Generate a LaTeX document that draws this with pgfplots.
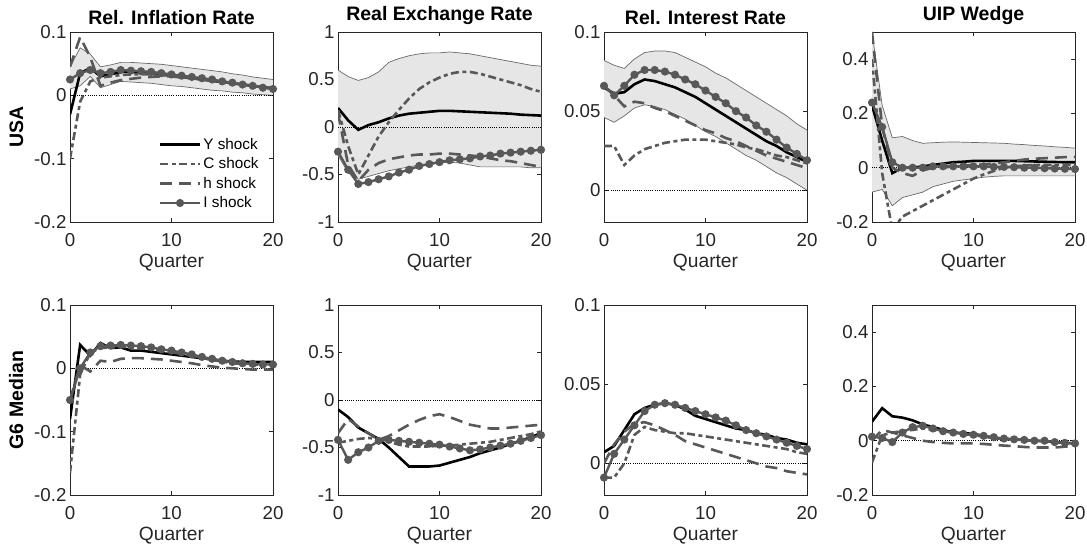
\documentclass[border=0pt]{standalone}
\usepackage{pgfplots}
\pgfplotsset{compat=1.18}
\usepackage{pgfplotstable}
\usepackage{fontspec}
\setmainfont{Liberation Sans}
\definecolor{axgray}{RGB}{38,38,38}
\definecolor{gline}{RGB}{88,88,88}
\definecolor{bandfill}{RGB}{230,230,230}
\definecolor{bandedge}{RGB}{105,105,105}

\pgfplotstableread{
q lo hi Y C h I
0 0.010 0.045 -0.030 -0.100 0.045 0.025
1 0.015 0.075 0.035 -0.010 0.092 0.035
2 0.030 0.065 0.043 0.022 0.060 0.040
3 0.012 0.045 0.030 0.028 0.015 0.035
4 0.017 0.048 0.033 0.030 0.020 0.037
5 0.022 0.052 0.037 0.032 0.024 0.040
6 0.021 0.052 0.037 0.033 0.026 0.039
7 0.020 0.051 0.036 0.033 0.028 0.038
8 0.019 0.050 0.035 0.033 0.029 0.037
9 0.017 0.049 0.033 0.032 0.030 0.035
10 0.015 0.047 0.031 0.031 0.030 0.033
11 0.014 0.045 0.029 0.029 0.028 0.031
12 0.012 0.043 0.027 0.027 0.027 0.029
13 0.010 0.041 0.025 0.025 0.025 0.027
14 0.008 0.039 0.023 0.023 0.023 0.025
15 0.007 0.037 0.021 0.021 0.021 0.022
16 0.005 0.034 0.019 0.019 0.019 0.020
17 0.004 0.032 0.017 0.017 0.017 0.017
18 0.002 0.029 0.015 0.015 0.015 0.015
19 0.001 0.027 0.013 0.013 0.013 0.012
20 0.000 0.025 0.011 0.011 0.011 0.010
}\usinf
\pgfplotstableread{
q lo hi Y C h I
0 -0.30 0.60 0.20 0.18 0.15 -0.26
1 -0.48 0.53 0.07 -0.20 -0.40 -0.45
2 -0.55 0.49 -0.03 -0.50 -0.57 -0.60
3 -0.52 0.52 0.02 -0.30 -0.45 -0.58
4 -0.49 0.58 0.05 -0.10 -0.38 -0.55
5 -0.46 0.68 0.09 0.05 -0.34 -0.52
6 -0.44 0.72 0.12 0.18 -0.32 -0.48
7 -0.42 0.75 0.14 0.30 -0.30 -0.45
8 -0.40 0.77 0.15 0.40 -0.29 -0.41
9 -0.39 0.78 0.16 0.47 -0.29 -0.39
10 -0.38 0.78 0.17 0.52 -0.28 -0.37
11 -0.37 0.79 0.17 0.56 -0.28 -0.35
12 -0.38 0.78 0.165 0.58 -0.29 -0.34
13 -0.40 0.77 0.16 0.58 -0.30 -0.33
14 -0.42 0.75 0.155 0.56 -0.31 -0.31
15 -0.42 0.73 0.15 0.53 -0.33 -0.30
16 -0.42 0.71 0.145 0.50 -0.35 -0.28
17 -0.42 0.69 0.14 0.47 -0.36 -0.27
18 -0.42 0.67 0.13 0.44 -0.38 -0.26
19 -0.43 0.65 0.125 0.40 -0.40 -0.25
20 -0.43 0.64 0.12 0.37 -0.42 -0.24
}\usrer
\pgfplotstableread{
q lo hi Y C h I
0 0.046 0.082 0.065 0.028 0.066 0.066
1 0.043 0.079 0.061 0.028 0.060 0.060
2 0.047 0.077 0.062 0.016 0.053 0.066
3 0.052 0.083 0.067 0.022 0.056 0.073
4 0.054 0.087 0.070 0.026 0.055 0.076
5 0.053 0.088 0.069 0.028 0.052 0.076
6 0.051 0.088 0.067 0.030 0.050 0.075
7 0.048 0.087 0.065 0.031 0.047 0.073
8 0.045 0.084 0.062 0.032 0.044 0.070
9 0.041 0.081 0.059 0.032 0.041 0.067
10 0.037 0.078 0.055 0.032 0.038 0.063
11 0.034 0.074 0.051 0.031 0.036 0.059
12 0.030 0.071 0.047 0.030 0.033 0.055
13 0.026 0.067 0.043 0.029 0.031 0.050
14 0.022 0.063 0.039 0.027 0.028 0.046
15 0.019 0.059 0.035 0.026 0.025 0.041
16 0.015 0.055 0.031 0.024 0.022 0.037
17 0.011 0.051 0.028 0.022 0.020 0.032
18 0.008 0.047 0.024 0.021 0.018 0.027
19 0.004 0.042 0.021 0.019 0.016 0.023
20 0.000 0.038 0.018 0.017 0.014 0.019
}\usint
\pgfplotstableread{
q lo hi Y C h I
0 -0.09 0.50 0.23 0.40 0.50 0.24
1 -0.08 0.23 0.10 -0.02 0.15 0.15
2 -0.14 0.11 -0.02 -0.23 0.00 0.02
3 -0.11 0.115 0.00 -0.18 -0.02 0.00
4 -0.10 0.10 0.00 -0.16 -0.03 0.00
5 -0.09 0.09 0.005 -0.14 -0.01 0.00
6 -0.07 0.092 0.01 -0.12 0.00 0.005
7 -0.06 0.094 0.015 -0.10 0.00 0.005
8 -0.05 0.095 0.02 -0.08 0.005 0.005
9 -0.045 0.094 0.022 -0.06 0.008 0.005
10 -0.04 0.093 0.025 -0.04 0.01 0.005
11 -0.035 0.092 0.025 -0.025 0.012 0.005
12 -0.032 0.091 0.025 -0.012 0.015 0.003
13 -0.03 0.09 0.025 0.00 0.02 0.003
14 -0.03 0.087 0.025 0.005 0.025 0.002
15 -0.03 0.085 0.024 0.008 0.03 0.000
16 -0.03 0.082 0.023 0.010 0.033 0.000
17 -0.03 0.08 0.022 0.010 0.035 -0.002
18 -0.03 0.077 0.021 0.010 0.037 -0.003
19 -0.03 0.075 0.020 0.010 0.039 -0.004
20 -0.03 0.072 0.020 0.010 0.040 -0.005
}\usuip
\pgfplotstableread{
q Y C h I
0 -0.080 -0.165 -0.050 -0.050
1 0.037 -0.010 0.005 0.000
2 0.020 0.025 -0.005 0.025
3 0.040 0.032 0.012 0.035
4 0.032 0.033 0.010 0.036
5 0.033 0.034 0.015 0.037
6 0.028 0.033 0.016 0.036
7 0.028 0.032 0.016 0.035
8 0.026 0.030 0.015 0.033
9 0.024 0.028 0.014 0.030
10 0.022 0.025 0.012 0.028
11 0.020 0.023 0.010 0.025
12 0.018 0.020 0.008 0.022
13 0.016 0.017 0.005 0.018
14 0.014 0.013 0.003 0.015
15 0.012 0.011 0.001 0.012
16 0.011 0.008 0.000 0.010
17 0.010 0.007 -0.001 0.008
18 0.010 0.006 -0.002 0.007
19 0.010 0.005 -0.002 0.006
20 0.010 0.005 -0.002 0.006
}\ginf
\pgfplotstableread{
q Y C h I
0 -0.10 -0.45 -0.35 -0.42
1 -0.18 -0.43 -0.20 -0.63
2 -0.29 -0.41 -0.28 -0.55
3 -0.35 -0.40 -0.35 -0.50
4 -0.41 -0.41 -0.42 -0.43
5 -0.50 -0.44 -0.38 -0.42
6 -0.60 -0.47 -0.32 -0.43
7 -0.70 -0.49 -0.26 -0.44
8 -0.70 -0.49 -0.21 -0.45
9 -0.70 -0.49 -0.17 -0.46
10 -0.69 -0.48 -0.15 -0.47
11 -0.66 -0.48 -0.18 -0.49
12 -0.63 -0.47 -0.22 -0.51
13 -0.60 -0.46 -0.26 -0.53
14 -0.56 -0.45 -0.28 -0.52
15 -0.53 -0.44 -0.30 -0.50
16 -0.50 -0.42 -0.30 -0.48
17 -0.46 -0.40 -0.29 -0.46
18 -0.43 -0.38 -0.28 -0.43
19 -0.39 -0.36 -0.27 -0.40
20 -0.35 -0.33 -0.26 -0.37
}\grer
\pgfplotstableread{
q Y C h I
0 0.007 -0.009 0.000 -0.009
1 0.011 -0.009 0.012 0.006
2 0.021 0.000 0.020 0.015
3 0.031 0.018 0.025 0.024
4 0.035 0.023 0.026 0.033
5 0.037 0.021 0.024 0.037
6 0.038 0.020 0.021 0.038
7 0.037 0.019 0.018 0.037
8 0.034 0.019 0.014 0.035
9 0.030 0.018 0.012 0.033
10 0.028 0.017 0.010 0.031
11 0.026 0.016 0.008 0.029
12 0.024 0.015 0.006 0.027
13 0.022 0.014 0.004 0.024
14 0.021 0.013 0.002 0.021
15 0.019 0.012 0.000 0.019
16 0.018 0.011 -0.002 0.017
17 0.016 0.010 -0.003 0.015
18 0.015 0.009 -0.005 0.013
19 0.013 0.007 -0.006 0.011
20 0.012 0.006 -0.007 0.009
}\gint
\pgfplotstableread{
q Y C h I
0 0.07 -0.08 0.00 0.015
1 0.12 0.02 0.04 0.010
2 0.09 0.03 0.03 -0.005
3 0.085 0.035 0.02 0.030
4 0.075 0.04 0.01 0.050
5 0.06 0.045 0.00 0.055
6 0.05 0.04 -0.005 0.045
7 0.04 0.035 -0.008 0.035
8 0.03 0.03 -0.01 0.030
9 0.028 0.025 -0.01 0.025
10 0.025 0.02 -0.01 0.022
11 0.018 0.015 -0.012 0.018
12 0.01 0.01 -0.015 0.013
13 0.007 0.007 -0.018 0.008
14 0.005 0.005 -0.02 0.005
15 0.003 0.002 -0.023 0.003
16 0.0 0.0 -0.025 0.000
17 -0.002 -0.002 -0.025 0.000
18 -0.005 -0.005 -0.025 -0.005
19 -0.008 -0.008 -0.022 -0.008
20 -0.01 -0.01 -0.02 -0.010
}\guip

\pgfplotsset{
  panel/.style={
    scale only axis, width=203pt, height=190pt,
    xmin=0, xmax=20, xtick={0,10,20}, xticklabels={0,10,20},
    tick align=inside, major tick length=4pt,
    axis line style={draw=axgray, line width=0.6pt},
    tick style={draw=axgray, line width=0.6pt},
    ticklabel style={font=\fontsize{18.7}{20}\selectfont, text=axgray},
    xticklabel style={yshift=-8pt},
    xlabel={Quarter},
    xlabel style={font=\fontsize{19.2}{21}\selectfont, text=axgray, yshift=0pt},
    ylabel style={font=\bfseries\fontsize{19.5}{21}\selectfont, text=black},
    ylabel shift=4pt,
    title style={font=\bfseries\fontsize{19.5}{21}\selectfont, yshift=-2pt},
  },
  Ys/.style={black, line width=2.6pt},
  Cs/.style={gline, line width=2.6pt, dash pattern=on 8pt off 3.5pt on 4pt off 3.5pt},
  hs/.style={gline, line width=2.6pt, dash pattern=on 12pt off 7pt},
  Is/.style={gline, line width=2.4pt, mark=*, mark size=2.8pt, mark options={solid, fill=gline, draw=gline}},
  band/.style={fill=bandfill, draw=none, forget plot},
  bandline/.style={bandedge, line width=0.7pt, forget plot},
  zline/.style={black, line width=0.6pt, dash pattern=on 1pt off 1.2pt, forget plot},
}

\newcommand{\bandlines}[1]{%
  \addplot[bandline] table[x=q, y=hi] {#1};
  \addplot[bandline] table[x=q, y=lo] {#1};
}
\newcommand{\series}[1]{%
  \addplot[zline] coordinates {(0,0) (20,0)};
  \addplot[Ys] table[x=q, y=Y] {#1};
  \addplot[Cs] table[x=q, y=C] {#1};
  \addplot[hs] table[x=q, y=h] {#1};
  \addplot[Is] table[x=q, y=I] {#1};
}

\begin{document}
\begin{tikzpicture}
\useasboundingbox (0,0) rectangle (1087pt,553pt);

% ---------- USA row ----------
\begin{axis}[panel, at={(70pt,331pt)}, anchor=south west,
  title={Rel. Inflation Rate}, ylabel={USA},
  ymin=-0.2, ymax=0.1, ytick={-0.2,-0.1,0,0.1}, yticklabels={-0.2,-0.1,0,0.1},
  legend style={draw=none, fill=none, at={(0.945,0.05)}, anchor=south east,
    font=\fontsize{15.3}{16}\selectfont, row sep=3pt, text=black,
    inner sep=1pt},
  legend cell align=left,
  legend image code/.code={\draw[mark repeat=2, mark phase=2, #1] plot coordinates {(0pt,0pt) (20pt,0pt) (40pt,0pt)};}]
\addplot[band] coordinates {(0,0.045)(1,0.075)(2,0.065)(3,0.045)(4,0.048)(5,0.052)(6,0.052)(7,0.051)(8,0.050)(9,0.049)(10,0.047)(11,0.045)(12,0.043)(13,0.041)(14,0.039)(15,0.037)(16,0.034)(17,0.032)(18,0.029)(19,0.027)(20,0.025)
 (20,0.000)(19,0.001)(18,0.002)(17,0.004)(16,0.005)(15,0.007)(14,0.008)(13,0.010)(12,0.012)(11,0.014)(10,0.015)(9,0.017)(8,0.019)(7,0.020)(6,0.021)(5,0.022)(4,0.017)(3,0.012)(2,0.030)(1,0.015)(0,0.010)};
\bandlines{\usinf}
\series{\usinf}
\legend{Y shock, C shock, h shock, I shock}
\end{axis}

\begin{axis}[panel, at={(338pt,331pt)}, anchor=south west,
  title={Real Exchange Rate},
  ymin=-1, ymax=1, ytick={-1,-0.5,0,0.5,1}, yticklabels={-1,-0.5,0,0.5,1}]
\addplot[band] coordinates {(0,0.60)(1,0.53)(2,0.49)(3,0.52)(4,0.58)(5,0.68)(6,0.72)(7,0.75)(8,0.77)(9,0.78)(10,0.78)(11,0.79)(12,0.78)(13,0.77)(14,0.75)(15,0.73)(16,0.71)(17,0.69)(18,0.67)(19,0.65)(20,0.64)
 (20,-0.43)(19,-0.43)(18,-0.42)(17,-0.42)(16,-0.42)(15,-0.42)(14,-0.42)(13,-0.40)(12,-0.38)(11,-0.37)(10,-0.38)(9,-0.39)(8,-0.40)(7,-0.42)(6,-0.44)(5,-0.46)(4,-0.49)(3,-0.52)(2,-0.55)(1,-0.48)(0,-0.30)};
\bandlines{\usrer}
\series{\usrer}
\end{axis}

\begin{axis}[panel, at={(604pt,331pt)}, anchor=south west,
  title={Rel. Interest Rate},
  ymin=-0.02, ymax=0.1, ytick={0,0.05,0.1}, yticklabels={0,0.05,0.1}]
\addplot[band] coordinates {(0,0.082)(1,0.079)(2,0.077)(3,0.083)(4,0.087)(5,0.088)(6,0.088)(7,0.087)(8,0.084)(9,0.081)(10,0.078)(11,0.074)(12,0.071)(13,0.067)(14,0.063)(15,0.059)(16,0.055)(17,0.051)(18,0.047)(19,0.042)(20,0.038)
 (20,0.000)(19,0.004)(18,0.008)(17,0.011)(16,0.015)(15,0.019)(14,0.022)(13,0.026)(12,0.030)(11,0.034)(10,0.037)(9,0.041)(8,0.045)(7,0.048)(6,0.051)(5,0.053)(4,0.054)(3,0.052)(2,0.047)(1,0.043)(0,0.046)};
\bandlines{\usint}
\series{\usint}
\end{axis}

\begin{axis}[panel, at={(872pt,331pt)}, anchor=south west,
  title={UIP Wedge},
  ymin=-0.2, ymax=0.5, ytick={-0.2,0,0.2,0.4}, yticklabels={-0.2,0,0.2,0.4}]
\addplot[band] coordinates {(0,0.50)(1,0.23)(2,0.11)(3,0.115)(4,0.10)(5,0.09)(6,0.092)(7,0.094)(8,0.095)(9,0.094)(10,0.093)(11,0.092)(12,0.091)(13,0.09)(14,0.087)(15,0.085)(16,0.082)(17,0.08)(18,0.077)(19,0.075)(20,0.072)
 (20,-0.03)(19,-0.03)(18,-0.03)(17,-0.03)(16,-0.03)(15,-0.03)(14,-0.03)(13,-0.03)(12,-0.032)(11,-0.035)(10,-0.04)(9,-0.045)(8,-0.05)(7,-0.06)(6,-0.07)(5,-0.09)(4,-0.10)(3,-0.11)(2,-0.14)(1,-0.08)(0,-0.09)};
\bandlines{\usuip}
\series{\usuip}
\end{axis}

% ---------- G6 row ----------
\begin{axis}[panel, at={(70pt,58pt)}, anchor=south west,
  ylabel={G6 Median},
  ymin=-0.2, ymax=0.1, ytick={-0.2,-0.1,0,0.1}, yticklabels={-0.2,-0.1,0,0.1}]
\series{\ginf}
\end{axis}

\begin{axis}[panel, at={(338pt,58pt)}, anchor=south west,
  ymin=-1, ymax=1, ytick={-1,-0.5,0,0.5,1}, yticklabels={-1,-0.5,0,0.5,1}]
\series{\grer}
\end{axis}

\begin{axis}[panel, at={(604pt,58pt)}, anchor=south west,
  ymin=-0.02, ymax=0.1, ytick={0,0.05,0.1}, yticklabels={0,0.05,0.1}]
\series{\gint}
\end{axis}

\begin{axis}[panel, at={(872pt,58pt)}, anchor=south west,
  ymin=-0.2, ymax=0.5, ytick={-0.2,0,0.2,0.4}, yticklabels={-0.2,0,0.2,0.4}]
\series{\guip}
\end{axis}
\end{tikzpicture}
\end{document}
